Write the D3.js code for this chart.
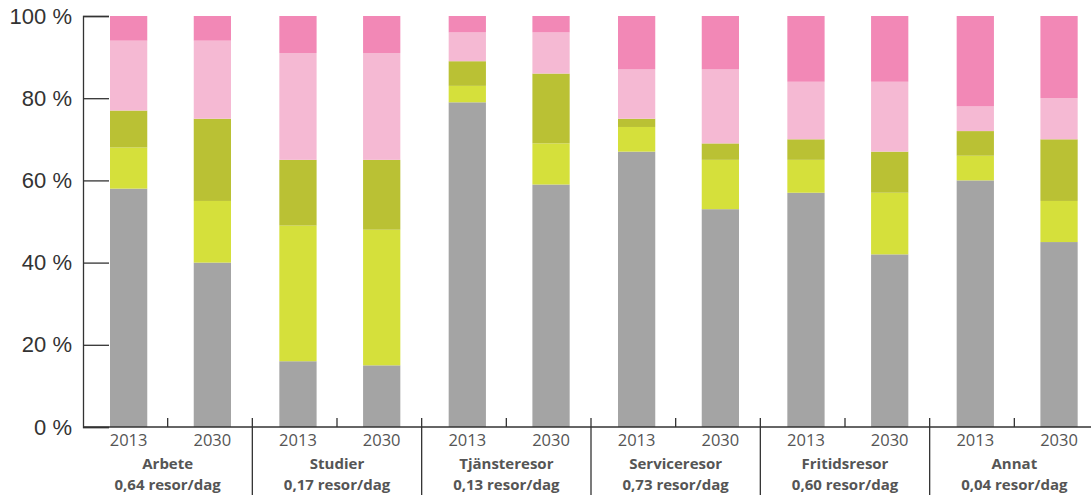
<!DOCTYPE html>
<html>
<head>
<meta charset="utf-8">
<script src="https://cdn.jsdelivr.net/npm/d3@7"></script>
<style>
  body { margin: 0; background: #fff; }
  svg { display: block; font-family: "Open Sans", sans-serif; }
</style>
</head>
<body>
<svg width="1091" height="495"></svg>
<script>
const groups = ["Arbete", "Studier", "Tjänsteresor", "Serviceresor", "Fritidsresor", "Annat"];
const tripsPerDay = ["0,64", "0,17", "0,13", "0,73", "0,60", "0,04"];
const years = ["2013", "2030"];
const yTicks = [0, 20, 40, 60, 80, 100];

// andel per stapel, ordning: grupp x år (2013, 2030)
const greyShare      = [58, 40, 16, 15, 79, 59, 67, 53, 57, 42, 60, 45];
const limeShare      = [10, 15, 33, 33, 4, 10, 6, 12, 8, 15, 6, 10];
const oliveShare     = [9, 20, 16, 17, 6, 17, 2, 4, 5, 10, 6, 15];
const lightPinkShare = [17, 19, 26, 26, 7, 10, 12, 18, 14, 17, 6, 10];
const pinkShare      = [6, 6, 9, 9, 4, 4, 13, 13, 16, 16, 22, 20];

const seriesKeys = ["grey", "lime", "olive", "lightPink", "pink"];
const colors = ["#a4a4a4", "#d5e03b", "#bac134", "#f5b9d3", "#f288b6"];

function buildRows() {
    let rows = [];
    groups.forEach((g, i) => {
        years.forEach((y, j) => {
            const k = i * 2 + j;
            rows.push({
                group: g, year: y,
                grey: greyShare[k], lime: limeShare[k], olive: oliveShare[k],
                lightPink: lightPinkShare[k], pink: pinkShare[k]
            });
        });
    });
    return rows;
}

function drawChart() {
    const svg = d3.select("svg");
    const area = { left: 83, right: 1099, top: 16, bottom: 427 };

    const scX = d3.scaleBand().domain(groups).range([area.left, area.right]);
    const scIn = d3.scaleBand().domain(years).range([27, 148]).paddingInner(0.555);
    const scY = d3.scaleLinear().domain([0, 100]).range([area.bottom, area.top]);
    const color = d3.scaleOrdinal().domain(seriesKeys).range(colors);

    const rows = buildRows();
    const stacked = d3.stack().keys(seriesKeys)(rows);

    // staplar
    svg.append("g")
        .selectAll("g")
        .data(stacked)
        .enter()
        .append("g")
        .attr("fill", d => color(d.key))
        .selectAll("rect")
        .data(d => d)
        .enter()
        .append("rect")
        .attr("x", d => scX(d.data.group) + scIn(d.data.year))
        .attr("width", scIn.bandwidth())
        .attr("y", d => scY(d[1]))
        .attr("height", d => scY(d[0]) - scY(d[1]));

    // y-axel
    const axisY = d3.axisLeft(scY)
        .tickValues(yTicks)
        .tickSize(-26)
        .tickPadding(11)
        .tickFormat(d => d + " %");
    const gy = svg.append("g")
        .attr("transform", `translate(${area.left}, 0)`)
        .call(axisY);
    gy.select(".domain").attr("stroke", "#333").attr("stroke-width", 1.3);
    gy.selectAll(".tick line").attr("stroke", "#333").attr("stroke-width", 1.3);
    gy.selectAll(".tick text")
        .attr("fill", "#333")
        .style("font-size", "22px")
        .style("font-weight", 300);

    // x-axel
    const gx = svg.append("g");
    gx.append("line")
        .attr("x1", area.left).attr("x2", 1091)
        .attr("y1", area.bottom).attr("y2", area.bottom)
        .attr("stroke", "#333").attr("stroke-width", 1.3);

    gx.selectAll(".sep")
        .data(groups.slice(1))
        .enter()
        .append("line")
        .attr("x1", d => scX(d)).attr("x2", d => scX(d))
        .attr("y1", area.bottom - 9).attr("y2", 495)
        .attr("stroke", "#333").attr("stroke-width", 1.3);

    gx.selectAll(".mid")
        .data(groups)
        .enter()
        .append("line")
        .attr("x1", d => scX(d) + scX.bandwidth() / 2)
        .attr("x2", d => scX(d) + scX.bandwidth() / 2)
        .attr("y1", area.bottom - 9).attr("y2", area.bottom)
        .attr("stroke", "#333").attr("stroke-width", 1.3);

    groups.forEach((g, i) => {
        years.forEach(y => {
            gx.append("text")
                .attr("x", scX(g) + scIn(y) + scIn.bandwidth() / 2)
                .attr("y", 446)
                .attr("text-anchor", "middle")
                .attr("fill", "#555")
                .style("font-size", "16.5px")
                .text(y);
        });
        const cx = scX(g) + scX.bandwidth() / 2;
        gx.append("text")
            .attr("x", cx).attr("y", 469)
            .attr("text-anchor", "middle")
            .attr("fill", "#555")
            .style("font-size", "15px")
            .style("font-weight", "bold")
            .text(g);
        gx.append("text")
            .attr("x", cx).attr("y", 490)
            .attr("text-anchor", "middle")
            .attr("fill", "#555")
            .style("font-size", "15px")
            .style("font-weight", "bold")
            .text(tripsPerDay[i] + " resor/dag");
    });
}

drawChart();
</script>
</body>
</html>
